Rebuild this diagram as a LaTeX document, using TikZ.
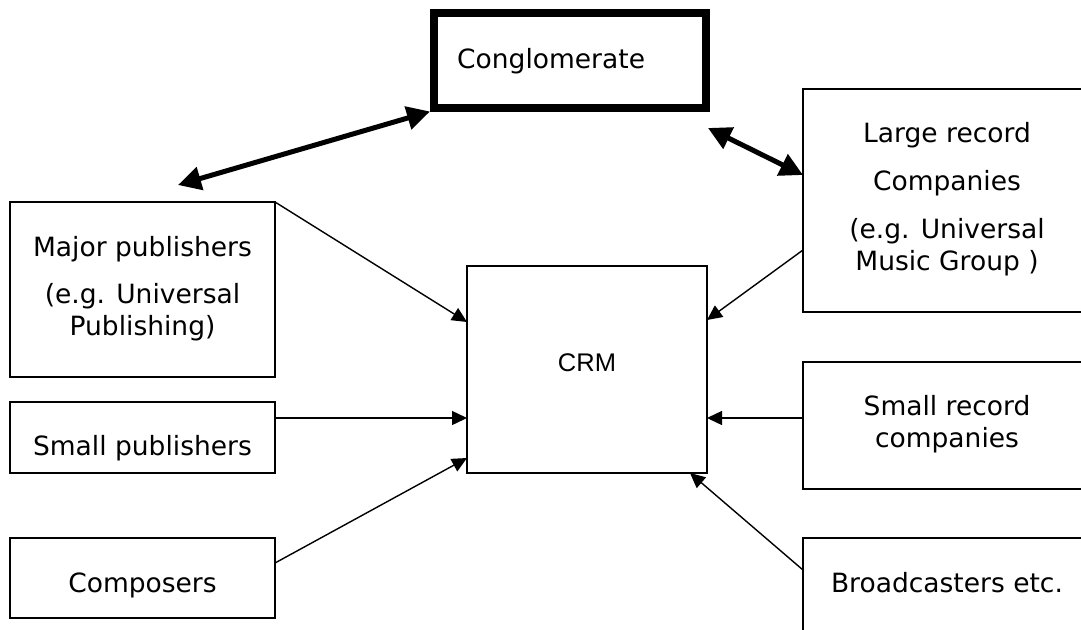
\documentclass[tikz,border=0pt]{standalone}
\usepackage{fontspec}
\setmainfont{DejaVu Sans}
\newfontfamily\arialf{Liberation Sans}
\usetikzlibrary{arrows.meta}
\begin{document}
\begin{tikzpicture}[x=1pt,y=-1pt,
  box/.style={draw, line width=1.5pt, rectangle, inner sep=0pt, outer sep=0pt},
  bigbox/.style={draw, line width=8pt, rectangle, inner sep=0pt},
  txt/.style={inner sep=0pt, anchor=base, font=\fontsize{26.5}{30}\selectfont},
  thin/.style={line width=1.4pt, -{Triangle[length=15pt,width=14pt]}},
  thick/.style={line width=5pt, {Triangle[length=23pt,width=23pt]}-{Triangle[length=23pt,width=23pt]}}]
\useasboundingbox (0,0) rectangle (1081,629);
\clip (0,0) rectangle (1081,629);
% boxes
\node[bigbox, minimum width=272pt, minimum height=95pt] (cong) at (570,60) {};
\node[box, minimum width=240pt, minimum height=207pt] (crm) at (587,369.5) {};
\node[box, minimum width=265pt, minimum height=175pt] (major) at (142.5,289.5) {};
\node[box, minimum width=265pt, minimum height=71pt] (smallpub) at (142.5,437.5) {};
\node[box, minimum width=265pt, minimum height=80pt] (comp) at (142.5,578) {};
\node[box, minimum width=288pt, minimum height=223pt] (large) at (947,200.5) {};
\node[box, minimum width=288pt, minimum height=127pt] (smallrec) at (947,425.5) {};
\node[box, minimum width=288pt, minimum height=112pt] (broad) at (947,594) {};
% texts
\node[txt, anchor=base west] (congT) at (457,68) {Conglomerate};
\node[txt, font=\arialf\fontsize{25.5}{30}\selectfont] (crmT) at (587,371) {CRM};
\node[txt] (majorT1) at (142.5,256) {Major publishers};
\node[txt] (majorT2) at (142.5,303) {(e.g. Universal};
\node[txt] (majorT3) at (142.5,335) {Publishing)};
\node[txt] (smallpubT) at (142.5,455) {Small publishers};
\node[txt] (compT) at (142.5,592) {Composers};
\node[txt] (largeT1) at (947,142) {Large record};
\node[txt] (largeT2) at (947,190) {Companies};
\node[txt] (largeT3) at (947,238) {(e.g. Universal};
\node[txt] (largeT4) at (947,270) {Music Group )};
\node[txt] (smallrecT1) at (947,415) {Small record};
\node[txt] (smallrecT2) at (947,447) {companies};
\node[txt] (broadT) at (947,592) {Broadcasters etc.};
% free ends
\coordinate (majtop) at (178,185);
\coordinate (congbr) at (708,128);
% connectors
\draw[thick] (majtop) -- (cong.south west);
\draw[thick] (congbr) -- ([yshift=25.5pt]large.west);
\draw[thin] (major.north east) -- ([yshift=47.5pt]crm.west);
\draw[thin] ([yshift=19.5pt]smallpub.east) -- ([yshift=-48.5pt]crm.west);
\draw[thin] ([yshift=15pt]comp.east) -- ([yshift=-88.5pt]crm.west);
\draw[thin] ([yshift=-49.5pt]large.west) -- ([yshift=49.5pt]crm.east);
\draw[thin] ([yshift=7.5pt]smallrec.west) -- ([yshift=-48.5pt]crm.east);
\draw[thin] ([yshift=24pt]broad.west) -- ([xshift=-17pt]crm.south east);
\end{tikzpicture}
\end{document}
